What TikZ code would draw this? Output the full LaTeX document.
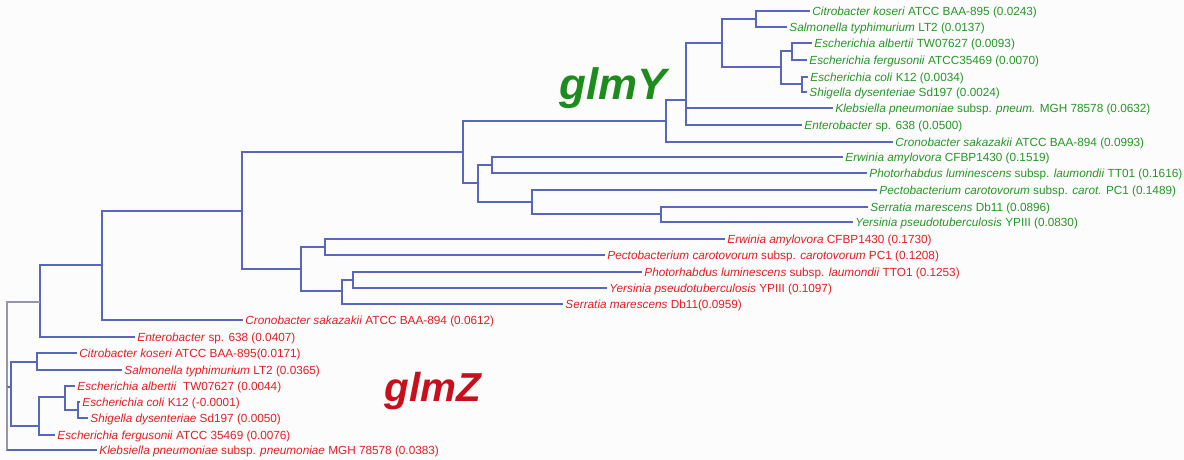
\documentclass[tikz,border=0pt]{standalone}
\usepackage{fontspec}
\setmainfont{Liberation Sans}
\definecolor{brc}{RGB}{88,102,188}
\definecolor{rootc}{RGB}{150,150,170}
\definecolor{grn}{RGB}{38,150,38}
\definecolor{rd}{RGB}{228,30,36}
\definecolor{biggrn}{RGB}{28,140,28}
\definecolor{bigrd}{RGB}{200,16,28}
\definecolor{bgc}{RGB}{252,252,252}
\begin{document}
\begin{tikzpicture}[x=0.02cm,y=-0.02cm,
  br/.style={draw=brc,line width=0.75pt},
  leaf/.style={anchor=west,inner xsep=1.2pt,inner ysep=0pt,font=\fontsize{6.7}{7}\selectfont,text height=0.72em,text depth=0.2em},
  leafY/.style={leaf,text=grn},
  leafZ/.style={leaf,text=rd},
  biglbl/.style={font=\fontsize{25}{28}\selectfont\bfseries\itshape}]
\fill[bgc] (0,0) rectangle (1184,460);
\useasboundingbox (0,0) rectangle (1184,460);
% ---- glmY leaves
\node[leafY] (Y1) at (810,11) {\textit{Citrobacter koseri} ATCC BAA-895 (0.0243)};
\node[leafY] (Y2) at (787,27) {\textit{Salmonella typhimurium} LT2 (0.0137)};
\node[leafY] (Y3) at (812,43) {\textit{Escherichia albertii} TW07627 (0.0093)};
\node[leafY] (Y4) at (807,60) {\textit{Escherichia fergusonii} ATCC35469 (0.0070)};
\node[leafY] (Y5) at (808,77) {\textit{Escherichia coli} K12 (0.0034)};
\node[leafY] (Y6) at (807,92) {\textit{Shigella dysenteriae} Sd197 (0.0024)};
\node[leafY] (Y7) at (833,108) {\textit{Klebsiella pneumoniae} subsp. \textit{pneum.} MGH 78578 (0.0632)};
\node[leafY] (Y8) at (802,125) {\textit{Enterobacter} sp. 638 (0.0500)};
\node[leafY] (Y9) at (893,142) {\textit{Cronobacter sakazakii} ATCC BAA-894 (0.0993)};
\node[leafY] (Y10) at (843,157) {\textit{Erwinia amylovora} CFBP1430 (0.1519)};
\node[leafY] (Y11) at (867,173) {\textit{Photorhabdus luminescens} subsp. \textit{laumondii} TT01 (0.1616)};
\node[leafY] (Y12) at (877,190) {\textit{Pectobacterium carotovorum} subsp. \textit{carot.} PC1 (0.1489)};
\node[leafY] (Y13) at (868,207) {\textit{Serratia marescens} Db11 (0.0896)};
\node[leafY] (Y14) at (853,222) {\textit{Yersinia pseudotuberculosis} YPIII (0.0830)};
% ---- glmZ leaves
\node[leafZ] (Z1) at (725,239) {\textit{Erwinia amylovora} CFBP1430 (0.1730)};
\node[leafZ] (Z2) at (605,255) {\textit{Pectobacterium carotovorum} subsp. \textit{carotovorum} PC1 (0.1208)};
\node[leafZ] (Z3) at (642,272) {\textit{Photorhabdus luminescens} subsp. \textit{laumondii} TTO1 (0.1253)};
\node[leafZ] (Z4) at (607,288) {\textit{Yersinia pseudotuberculosis} YPIII (0.1097)};
\node[leafZ] (Z5) at (563,304) {\textit{Serratia marescens} Db11(0.0959)};
\node[leafZ] (Z6) at (243,320) {\textit{Cronobacter sakazakii} ATCC BAA-894 (0.0612)};
\node[leafZ] (Z7) at (135,337) {\textit{Enterobacter} sp. 638 (0.0407)};
\node[leafZ] (Z8) at (77,353) {\textit{Citrobacter koseri} ATCC BAA-895(0.0171)};
\node[leafZ] (Z9) at (122,370) {\textit{Salmonella typhimurium} LT2 (0.0365)};
\node[leafZ] (Z10) at (75,386) {\textit{Escherichia albertii}\ \ TW07627 (0.0044)};
\node[leafZ] (Z11) at (80,402) {\textit{Escherichia coli} K12 (-0.0001)};
\node[leafZ] (Z12) at (88,418) {\textit{Shigella dysenteriae} Sd197 (0.0050)};
\node[leafZ] (Z13) at (55,435) {\textit{Escherichia fergusonii} ATCC 35469 (0.0076)};
\node[leafZ] (Z14) at (97,450) {\textit{Klebsiella pneumoniae} subsp. \textit{pneumoniae} MGH 78578 (0.0383)};
% ---- internal nodes
\coordinate (nCS) at (756,19);
\coordinate (nEaEf) at (792,51);
\coordinate (nEcSd) at (802,84);
\coordinate (nEsch) at (781,67);
\coordinate (nCSE) at (722,43);
\coordinate (nA) at (686,100);
\coordinate (nB) at (666,121);
\coordinate (nErPh) at (492,165);
\coordinate (nSeYe) at (661,214);
\coordinate (nPeSY) at (532,202);
\coordinate (nPECT) at (478,183);
\coordinate (nGY) at (463,152);
\coordinate (nTop) at (242,211);
\coordinate (nErPe) at (325,247);
\coordinate (nPhYe) at (353,280);
\coordinate (nPYS) at (342,291);
\coordinate (nZ1) at (301,269);
\coordinate (nC) at (102,265);
\coordinate (nD) at (40,302);
\coordinate (nCSz) at (37,362);
\coordinate (nEcSdz) at (78,410);
\coordinate (nAlb) at (65,397);
\coordinate (nEschZ) at (39,426);
\coordinate (nCSEz) at (11,387);
\coordinate (root) at (7,387);
% ---- branches glmY
\draw[br] (nCS) |- (Y1.west);
\draw[br] (nCS) |- (Y2.west);
\draw[br] (nEaEf) |- (Y3.west);
\draw[br] (nEaEf) |- (Y4.west);
\draw[br] (nEcSd) |- (Y5.west);
\draw[br] (nEcSd) |- (Y6.west);
\draw[br] (nEsch) |- (nEaEf);
\draw[br] (nEsch) |- (nEcSd);
\draw[br] (nCSE) |- (nCS);
\draw[br] (nCSE) |- (nEsch);
\draw[br] (nA) |- (nCSE);
\draw[br] (nA) |- (Y7.west);
\draw[br] (nA) |- (Y8.west);
\draw[br] (nB) |- (nA);
\draw[br] (nB) |- (Y9.west);
\draw[br] (nErPh) |- (Y10.west);
\draw[br] (nErPh) |- (Y11.west);
\draw[br] (nSeYe) |- (Y13.west);
\draw[br] (nSeYe) |- (Y14.west);
\draw[br] (nPeSY) |- (Y12.west);
\draw[br] (nPeSY) |- (nSeYe);
\draw[br] (nPECT) |- (nErPh);
\draw[br] (nPECT) |- (nPeSY);
\draw[br] (nGY) |- (nB);
\draw[br] (nGY) |- (nPECT);
\draw[br] (nTop) |- (nGY);
\draw[br] (nTop) |- (nZ1);
% ---- branches glmZ
\draw[br] (nErPe) |- (Z1.west);
\draw[br] (nErPe) |- (Z2.west);
\draw[br] (nPhYe) |- (Z3.west);
\draw[br] (nPhYe) |- (Z4.west);
\draw[br] (nPYS) |- (nPhYe);
\draw[br] (nPYS) |- (Z5.west);
\draw[br] (nZ1) |- (nErPe);
\draw[br] (nZ1) |- (nPYS);
\draw[br] (nC) |- (nTop);
\draw[br] (nC) |- (Z6.west);
\draw[br] (nD) |- (nC);
\draw[br] (nD) |- (Z7.west);
\draw[br] (nCSz) |- (Z8.west);
\draw[br] (nCSz) |- (Z9.west);
\draw[br] (nEcSdz) |- (Z11.west);
\draw[br] (nEcSdz) |- (Z12.west);
\draw[br] (nAlb) |- (Z10.west);
\draw[br] (nAlb) |- (nEcSdz);
\draw[br] (nEschZ) |- (nAlb);
\draw[br] (nEschZ) |- (Z13.west);
\draw[br] (nCSEz) |- (nCSz);
\draw[br] (nCSEz) |- (nEschZ);
\draw[br,draw=rootc] (root) |- (nD);
\draw[br] (root) -- (nCSEz);
\draw[br,draw=rootc] (root) |- (Z14.west);
\draw[br] (Z14.west -| root) -- (Z14.west);
% ---- big labels
\node[biglbl,text=biggrn] (lblY) at (613,88) {glmY};
\node[biglbl,text=bigrd,font=\fontsize{23}{26}\selectfont\bfseries\itshape] (lblZ) at (433,391) {glmZ};
\end{tikzpicture}
\end{document}
